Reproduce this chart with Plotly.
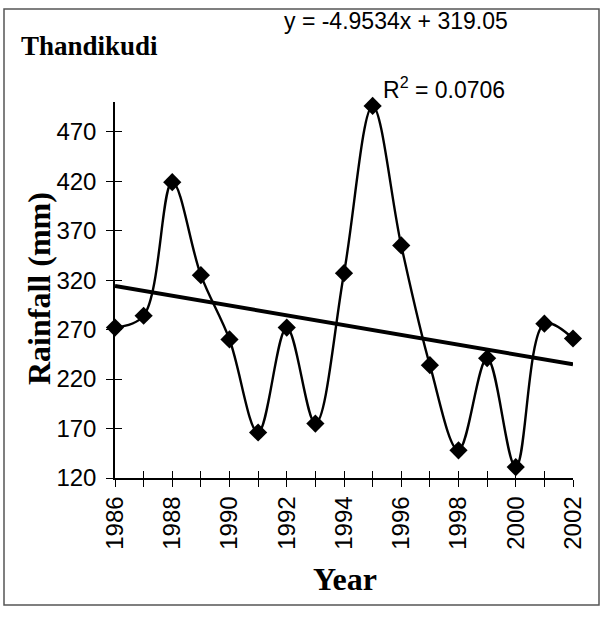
import plotly.graph_objects as go

# Rainfall at Thandikudi, 1986-2002
years = list(range(1986, 2003))
rainfall = [272, 284, 419, 325, 260, 166, 272, 175, 327, 496, 355, 234, 148, 241, 131, 276, 261]

# linear trend as printed on the chart (x = 1 for 1986)
slope = -4.9534
intercept = 319.05
r_squared = 0.0706

y_ticks = [120, 170, 220, 270, 320, 370, 420, 470]
x_ticks = [y for y in years if y % 2 == 0]

trend = [intercept + slope * (y - years[0] + 1) for y in years]

W, H = 604, 617
L, R, T, B = 115, 31, 102, 139
pw, ph = W - L - R, H - T - B


def px(x):
    return (x - L) / pw


def py(y):
    return (H - B - y) / ph


fig = go.Figure()

fig.add_trace(go.Scatter(
    x=years, y=trend, mode="lines",
    line=dict(color="black", width=4),
    hoverinfo="skip", showlegend=False, cliponaxis=False,
))
fig.add_trace(go.Scatter(
    x=years, y=rainfall, mode="lines+markers",
    line=dict(color="black", width=2.4, shape="spline", smoothing=1),
    marker=dict(symbol="diamond", size=14, color="black"),
    showlegend=False, cliponaxis=False,
))
# dummy trace so the overlay axes (inside half of the cross ticks) get drawn
fig.add_trace(go.Scatter(
    x=[years[0]], y=[y_ticks[0]], xaxis="x2", yaxis="y2",
    mode="markers", marker=dict(opacity=0), showlegend=False, hoverinfo="skip",
))

tick_font = dict(family="Liberation Sans, Arial", size=24, color="black")

fig.update_layout(
    width=W, height=H,
    margin=dict(l=L, r=R, t=T, b=B),
    paper_bgcolor="white", plot_bgcolor="white",
    xaxis=dict(
        range=[1986, 2002], tickvals=x_ticks, tickangle=-90,
        ticks="outside", ticklen=7, tickwidth=1.2, tickcolor="black",
        minor=dict(dtick=1, tick0=1986, ticks="outside", ticklen=7,
                   tickwidth=1.2, tickcolor="black", showgrid=False),
        showline=True, linecolor="black", linewidth=1.5,
        showgrid=False, zeroline=False, tickfont=tick_font,
    ),
    yaxis=dict(
        range=[120, 500], tickvals=y_ticks,
        ticks="outside", ticklen=7, tickwidth=1.2, tickcolor="black",
        showline=True, linecolor="black", linewidth=1.5,
        showgrid=False, zeroline=False, tickfont=tick_font,
        ticklabelstandoff=5,
    ),
    xaxis2=dict(
        range=[1986, 2002], tickvals=years, overlaying="x", side="bottom",
        ticks="inside", ticklen=7, tickwidth=1.2, tickcolor="black",
        showticklabels=False, showgrid=False, zeroline=False, showline=False,
    ),
    yaxis2=dict(
        range=[120, 500], tickvals=y_ticks, overlaying="y", side="left",
        ticks="inside", ticklen=7, tickwidth=1.2, tickcolor="black",
        showticklabels=False, showgrid=False, zeroline=False, showline=False,
    ),
    shapes=[dict(
        type="rect", xref="paper", yref="paper",
        x0=px(4), x1=px(599), y0=py(605), y1=py(9),
        line=dict(color="#555555", width=1.5),
    )],
    annotations=[
        dict(text="<b>Thandikudi</b>", xref="paper", yref="paper",
             x=px(19), y=py(46), xanchor="left", yanchor="middle", showarrow=False,
             font=dict(family="Liberation Serif, Times New Roman", size=27, color="black")),
        dict(text="y = -4.9534x + 319.05", xref="paper", yref="paper",
             x=px(510), y=py(21), xanchor="right", yanchor="middle", showarrow=False,
             font=dict(family="Liberation Sans, Arial", size=23, color="black")),
        dict(text="R<sup>2</sup> = %.4f" % r_squared, xref="paper", yref="paper",
             x=px(507), y=py(88), xanchor="right", yanchor="middle", showarrow=False,
             font=dict(family="Liberation Sans, Arial", size=23, color="black")),
        dict(text="<b>Year</b>", xref="paper", yref="paper",
             x=px(345), y=py(579), xanchor="center", yanchor="middle", showarrow=False,
             font=dict(family="Liberation Serif, Times New Roman", size=32, color="black")),
        dict(text="<b>Rainfall (mm)</b>", xref="paper", yref="paper",
             x=px(39), y=py(289), xanchor="center", yanchor="middle", showarrow=False,
             textangle=-90,
             font=dict(family="Liberation Serif, Times New Roman", size=32, color="black")),
    ],
)

# page has an 8px body margin by default; drop it so the figure fills the window
fig.write_html("out.html", config={"displayModeBar": False},
               post_script="document.body.style.margin = '0';")
